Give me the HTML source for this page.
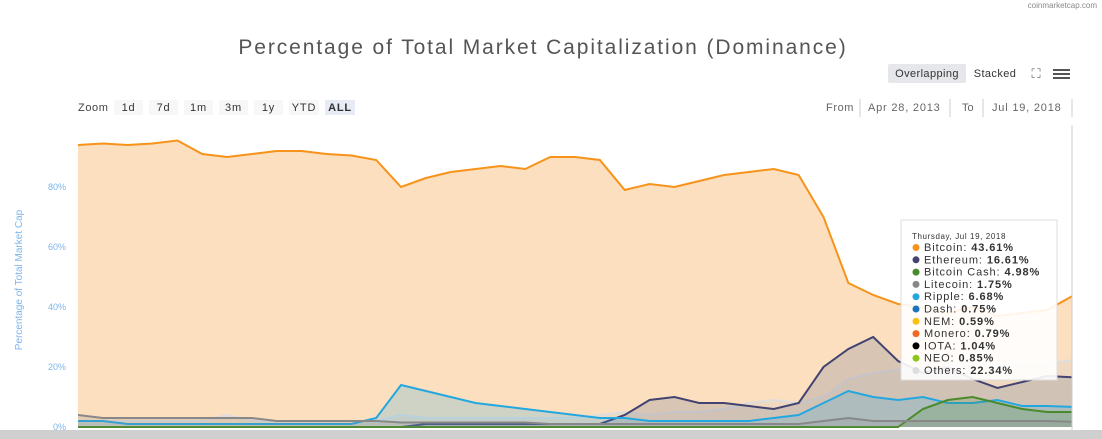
<!DOCTYPE html>
<html><head><meta charset="utf-8">
<style>
body{margin:0;width:1102px;height:439px;overflow:hidden;background:#fff;font-family:"Liberation Sans",sans-serif;}
svg{position:absolute;left:0;top:0}
</style></head><body>
<svg id="chart" width="1102" height="439">
<text x="1097" y="8" font-size="8" fill="#888" text-anchor="end">coinmarketcap.com</text>
<text x="543" y="54" font-size="21" fill="#555" letter-spacing="1.9" text-anchor="middle">Percentage of Total Market Capitalization (Dominance)</text>
<g>
<rect x="888" y="64" width="78" height="19" rx="2" fill="#e6e7ea"/>
<text x="927" y="77" font-size="11" fill="#333" letter-spacing="0.4" text-anchor="middle">Overlapping</text>
<text x="995" y="77" font-size="11" fill="#333" letter-spacing="0.4" text-anchor="middle">Stacked</text>
<text x="1036" y="78" font-size="13" fill="#666" text-anchor="middle">⛶</text>
<g><rect x="1053" y="69" width="17" height="2" fill="#555"/><rect x="1053" y="73" width="17" height="2" fill="#555"/><rect x="1053" y="77" width="17" height="2" fill="#555"/></g>
</g>
<g>
<text x="78" y="111" font-size="11" fill="#444" letter-spacing="0.6">Zoom</text>
<g id="zbtns"></g>
<text x="826" y="111" font-size="11" fill="#666" letter-spacing="0.6">From</text>
<line x1="860" y1="99" x2="860" y2="117" stroke="#ccc"/>
<text x="868" y="111" font-size="11" fill="#666" letter-spacing="0.8">Apr 28, 2013</text>
<line x1="950" y1="99" x2="950" y2="117" stroke="#ccc"/>
<text x="962" y="111" font-size="11" fill="#666">To</text>
<line x1="983" y1="99" x2="983" y2="117" stroke="#ccc"/>
<text x="992" y="111" font-size="11" fill="#666" letter-spacing="0.8">Jul 19, 2018</text>
<line x1="1072" y1="99" x2="1072" y2="117" stroke="#ccc"/>
</g>
<text transform="translate(22,280) rotate(-90)" font-size="10" fill="#7cb5ec" text-anchor="middle">Percentage of Total Market Cap</text>
<g id="yticks"></g>
<g id="plot"></g>
<line x1="1072" y1="125" x2="1072" y2="430" stroke="#ccc"/>
<rect x="0" y="430" width="1102" height="9" fill="#cfcfcf"/>
<g id="tooltip"></g>
</svg>
<script>
const categories = Array.from({length:41},(_,i)=>i);
const btc=[94,94.5,94,94.5,95.5,91,90,91,92,92,91,90.5,89,80,83,85,86,87,86,90,90,89,79,81,80,82,84,85,86,84,70,48,44,41,40,38,40,37,38,39,43.6];
const eth=[0,0,0,0,0,0,0,0,0,0,0,0,0,0,1,1,1,1,1,1,1,1,4,9,10,8,8,7,6,8,20,26,30,22,18,20,16,13,15,17,16.6];
const xrp=[2,2,1,1,1,1,1,1,1,1,1,1,3,14,12,10,8,7,6,5,4,3,3,2,2,2,2,2,3,4,8,12,10,9,10,8,8,9,7,7,6.7];
const others=[2,2,2,2,2,2,4,2,2,2,2,2,2,4,3,3,3,3,3,3,3,4,5,4,5,5,6,8,9,8,10,16,18,19,19,20,20,20,21,21,22.3];
const ltc=[4,3,3,3,3,3,3,3,2,2,2,2,2,1.5,1.5,1.5,1.5,1.5,1.5,1,1,1,1,1,1,1,1,1,1,1,2,3,2,2,2,2,2,2,2,2,1.75];
const bch=[0,0,0,0,0,0,0,0,0,0,0,0,0,0,0,0,0,0,0,0,0,0,0,0,0,0,0,0,0,0,0,0,0,0,6,9,10,8,6,5,5];
const yTicks=[0,20,40,60,80];
const zoomLabels=["1d","7d","1m","3m","1y","YTD","ALL"];
const tipRows=[["Bitcoin","43.61%","#f7931a"],["Ethereum","16.61%","#434372"],["Bitcoin Cash","4.98%","#4a8a2a"],["Litecoin","1.75%","#888"],["Ripple","6.68%","#23a7e0"],["Dash","0.75%","#1c75bc"],["NEM","0.59%","#f9c00d"],["Monero","0.79%","#f26822"],["IOTA","1.04%","#000"],["NEO","0.85%","#8cc71c"],["Others","22.34%","#ddd"]];
const NS="http://www.w3.org/2000/svg";
const X0=78,X1=1072,Y0=427;
const x=i=>X0+(X1-X0)*i/(categories.length-1);
const y=v=>Y0-v*3;
function mk(t,a,p){const e=document.createElementNS(NS,t);for(const k in a)e.setAttribute(k,a[k]);p.appendChild(e);return e;}
const yt=document.getElementById('yticks');
yTicks.forEach(v=>{const t=mk('text',{x:66,y:y(v)+3,'font-size':9,fill:'#7cb5ec','text-anchor':'end'},yt);t.textContent=v+'%';

});
const zb=document.getElementById('zbtns');
let bx=114;
zoomLabels.forEach((l,i)=>{const w=l.length>2?30:29;const r=mk('rect',{x:bx,y:100,width:w,height:15,fill:i==6?'#e6ebf5':'#f7f7f7'},zb);


const t=mk('text',{x:bx+w/2,y:111,'font-size':11,fill:'#333','font-weight':i==6?'bold':'normal','letter-spacing':0.8,'text-anchor':'middle'},zb);t.textContent=l;bx+=w+6;});
const plot=document.getElementById('plot');
function series(name,vals,color,fill,op){
 const pts=vals.map((v,i)=>x(i)+','+y(v));
 const a=mk('path',{d:'M'+x(0)+','+Y0+' L'+pts.join(' L')+' L'+x(vals.length-1)+','+Y0+' Z',fill:fill,'fill-opacity':op},plot);
 
 
 const l=mk('path',{d:'M'+pts.join(' L'),fill:'none',stroke:color,'stroke-width':2},plot);
 
 
}
series('bitcoin',btc,'#f7931a','#fbdcb7',0.9);
series('others',others,'#ddd','#ccc',0.25);
series('ethereum',eth,'#434372','#8a8aa0',0.3);
series('ripple',xrp,'#23a7e0','#23a7e0',0.2);
series('bitcoin-cash',bch,'#4a8a2a','#4a8a2a',0.2);
series('litecoin',ltc,'#888','#888',0.2);
const tp=document.getElementById('tooltip');
mk('rect',{x:901,y:220,width:156,height:160,fill:'#fff','fill-opacity':0.9,stroke:'#ddd'},tp);
const h=mk('text',{x:912,y:239,'font-size':8,fill:'#333','letter-spacing':0.6},tp);h.textContent='Thursday, Jul 19, 2018';
tipRows.forEach((r,i)=>{const yy=251+i*12.3;mk('circle',{cx:916,cy:yy-3.5,r:3.5,fill:r[2]},tp);
const t=mk('text',{x:924,y:yy,'font-size':11,fill:'#333','letter-spacing':0.9},tp);t.innerHTML=r[0]+': <tspan font-weight="bold">'+r[1]+'</tspan>';});
</script>
</body></html>
